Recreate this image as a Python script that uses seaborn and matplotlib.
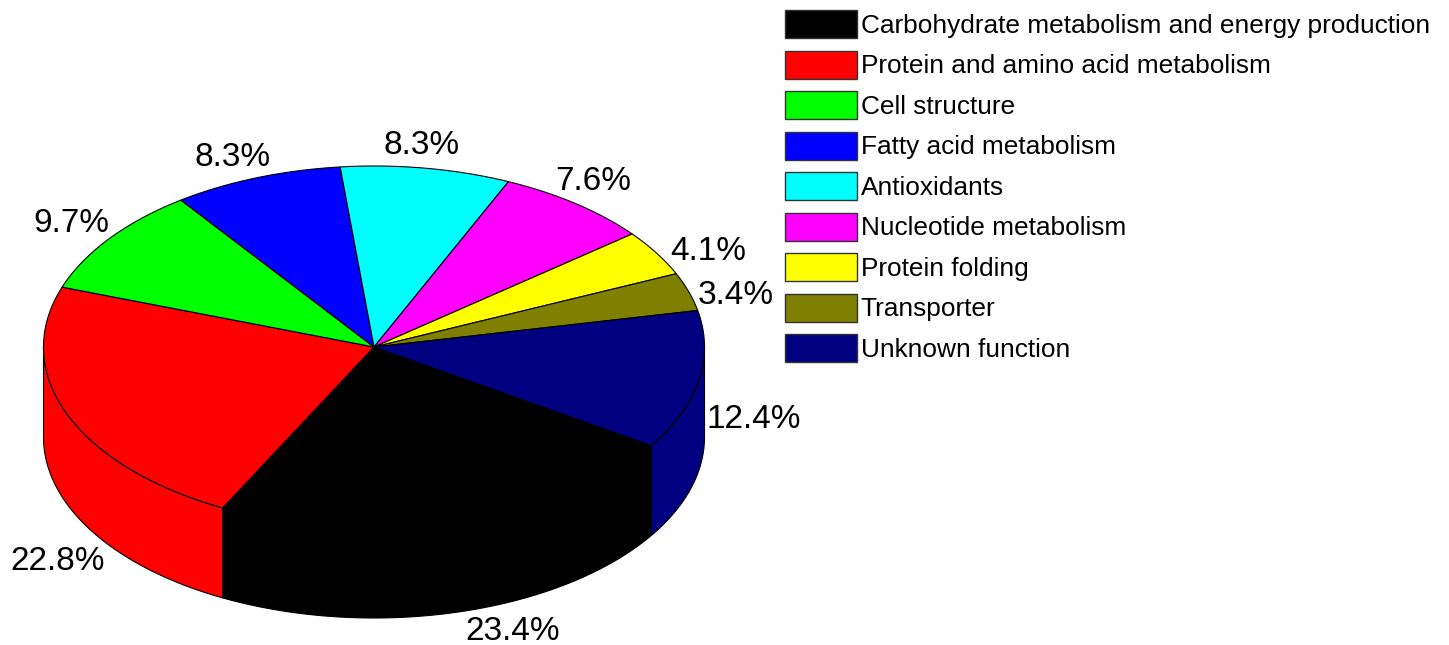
import numpy as np
import matplotlib
matplotlib.use('Agg')
import matplotlib.pyplot as plt
from matplotlib.patches import Patch, Polygon
import seaborn as sns

categories = ['Carbohydrate metabolism and energy production',
              'Protein and amino acid metabolism', 'Cell structure',
              'Fatty acid metabolism', 'Antioxidants', 'Nucleotide metabolism',
              'Protein folding', 'Transporter', 'Unknown function']
values = [23.4, 22.8, 9.7, 8.3, 8.3, 7.6, 4.1, 3.4, 12.4]
colors = ['#000000', '#ff0000', '#00ff00', '#0000ff', '#00ffff',
          '#ff00ff', '#ffff00', '#808000', '#000080']

sns.set_theme(style='white')
plt.rcParams['font.family'] = ['Liberation Sans', 'DejaVu Sans']

# pie geometry in pixels
cx, cy = 374, 347
rx, ry = 330.5, 181
depth = 90
start = -33.0
label_pos = [(513, 631), (58, 562), (71, 224), (233, 157), (422, 145),
             (593, 182), (708, 251), (736, 296), (754, 420)]


def arc(a0, a1, n=80):
    t = np.radians(np.linspace(a0, a1, n))
    return cx + rx * np.cos(t), cy - ry * np.sin(t)


fig, ax = plt.subplots(figsize=(14.49, 6.45), dpi=100)
fig.subplots_adjust(0, 0, 1, 1)
ax.set_xlim(0, 1449)
ax.set_ylim(645, 0)
ax.axis('off')

# going clockwise from the start angle
ends = start - np.cumsum(values) * 3.6
starts = np.r_[start, ends[:-1]]

# side wall, only the part of each slice facing us
for a0, a1, col in zip(starts, ends, colors):
    for lo, hi in [(-180, 0), (-540, -360)]:
        s0, s1 = min(a0, hi), max(a1, lo)
        if s0 <= s1:
            continue
        x, y = arc(s0, s1)
        pts = np.r_[np.c_[x, y], np.c_[x[::-1], y[::-1] + depth]]
        ax.add_patch(Polygon(pts, closed=True, fc=col, ec='black', lw=0.8))

# top face
for a0, a1, col in zip(starts, ends, colors):
    x, y = arc(a0, a1)
    pts = np.r_[[[cx, cy]], np.c_[x, y]]
    ax.add_patch(Polygon(pts, closed=True, fc=col, ec='black', lw=0.8))

for val, (lx, ly) in zip(values, label_pos):
    ax.text(lx, ly, f'{val}%', fontsize=24, color='black', ha='center', va='center')

handles = [Patch(fc=c, ec='#333333', lw=1) for c in colors]
ax.legend(handles, categories, loc='upper left', bbox_to_anchor=(785 / 1449, 1 - 10 / 645),
          borderaxespad=0, borderpad=0, frameon=False, fontsize=18.9, labelcolor='black',
          handlelength=2.74, handleheight=1.265, handletextpad=0.15, labelspacing=0.476)

fig.savefig('out.png', dpi=100)
